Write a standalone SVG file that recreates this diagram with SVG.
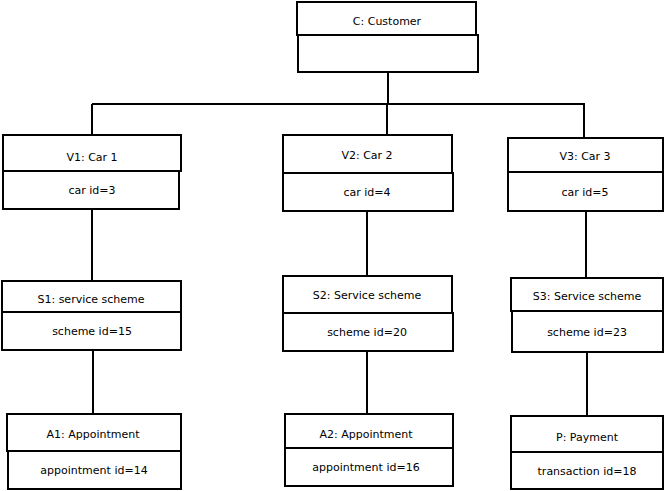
<svg xmlns="http://www.w3.org/2000/svg" width="665" height="491" viewBox="0 0 665 491">
<style>
.b{fill:#fff;stroke:#000;stroke-width:2}
.t{font-family:"DejaVu Sans",sans-serif;font-size:11px;text-anchor:middle;fill:#000}
.c{stroke:#000;stroke-width:2;fill:none}
</style>
<rect width="665" height="491" fill="#fff"/>
<g id="connectors">
<path class="c" d="M388 72V104M92 104H585M92 104V135M387 104V135M584 104V138"/>
<path class="c" d="M92 209V280M367 211V276M586 211V278"/>
<path class="c" d="M93 350V414M367 351V414M587 353V415"/>
</g>
<g id="C">
<rect class="b" x="297" y="2" width="179" height="33"/>
<rect class="b" x="298" y="35" width="180" height="37"/>
<text class="t" x="387" y="25">C: Customer</text>
</g>
<g id="V1">
<rect class="b" x="3" y="135" width="178" height="36"/>
<rect class="b" x="3" y="171" width="176" height="38"/>
<text class="t" x="92" y="161">V1: Car 1</text>
<text class="t" x="92" y="194">car id=3</text>
</g>
<g id="V2">
<rect class="b" x="283" y="135" width="169" height="38"/>
<rect class="b" x="283" y="173" width="170" height="38"/>
<text class="t" x="367" y="159">V2: Car 2</text>
<text class="t" x="367" y="196">car id=4</text>
</g>
<g id="V3">
<rect class="b" x="508" y="138" width="155" height="34"/>
<rect class="b" x="508" y="172" width="155" height="39"/>
<text class="t" x="585" y="160">V3: Car 3</text>
<text class="t" x="585" y="196">car id=5</text>
</g>
<g id="S1">
<rect class="b" x="2" y="281" width="179" height="32"/>
<rect class="b" x="2" y="312" width="179" height="38"/>
<text class="t" x="91" y="303">S1: service scheme</text>
<text class="t" x="92" y="335">scheme id=15</text>
</g>
<g id="S2">
<rect class="b" x="283" y="276" width="169" height="37"/>
<rect class="b" x="283" y="313" width="170" height="38"/>
<text class="t" x="367" y="299">S2: Service scheme</text>
<text class="t" x="367" y="336">scheme id=20</text>
</g>
<g id="S3">
<rect class="b" x="511" y="278" width="152" height="33"/>
<rect class="b" x="512" y="311" width="151" height="41"/>
<text class="t" x="587" y="300">S3: Service scheme</text>
<text class="t" x="587" y="336">scheme id=23</text>
</g>
<g id="A1">
<rect class="b" x="7" y="414" width="174" height="37"/>
<rect class="b" x="8" y="451" width="173" height="38"/>
<text class="t" x="93" y="438">A1: Appointment</text>
<text class="t" x="94" y="474">appointment id=14</text>
</g>
<g id="A2">
<rect class="b" x="285" y="414" width="168" height="34"/>
<rect class="b" x="285" y="448" width="168" height="38"/>
<text class="t" x="366" y="438">A2: Appointment</text>
<text class="t" x="366" y="471">appointment id=16</text>
</g>
<g id="P">
<rect class="b" x="511" y="416" width="152" height="36"/>
<rect class="b" x="511" y="452" width="152" height="37"/>
<text class="t" x="587" y="441">P: Payment</text>
<text class="t" x="587" y="475">transaction id=18</text>
</g>
</svg>
